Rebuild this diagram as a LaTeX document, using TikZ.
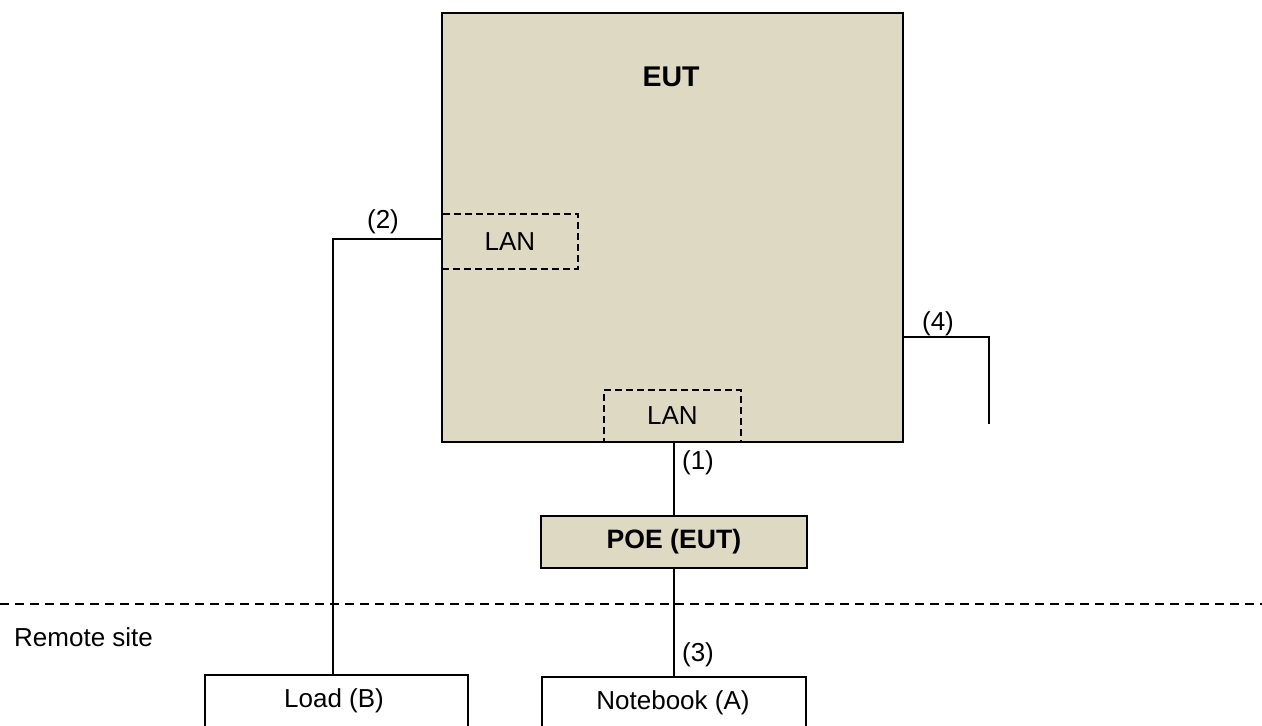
\documentclass[tikz,border=0pt]{standalone}
\usepackage{fontspec}
\setmainfont{Liberation Sans}
\definecolor{tan}{HTML}{DDD9C3}
\tikzset{
  box/.style={draw, line width=1.8pt, inner sep=0pt, anchor=north west},
  port/.style={draw, dash pattern=on 7pt off 4pt, line width=1.8pt, inner sep=0pt, anchor=north west},
  wire/.style={line width=1.8pt},
  txt/.style={font=\fontsize{26}{31}\selectfont, inner sep=0pt},
  btxt/.style={font=\fontsize{26.6}{32}\selectfont\bfseries, inner sep=0pt}
}
\begin{document}
\begin{tikzpicture}[x=1pt, y=-1pt]
  \clip (0,0) rectangle (1262,726);
  % equipment under test
  \node[box, fill=tan, minimum width=461pt, minimum height=429pt] (eut) at (441,12) {};
  \node[btxt, font=\fontsize{28.5}{34}\selectfont\bfseries] (eutlabel) at (671,77) {EUT};
  \node[port, minimum width=136pt, minimum height=55pt] (lanA) at (441,213) {};
  \node[txt] (lanAlabel) at (lanA.center) {LAN};
  \node[port, minimum width=137pt, minimum height=52pt] (lanB) at (603,389) {};
  \node[txt] (lanBlabel) at (lanB.center) {LAN};
  % power over ethernet injector
  \node[box, fill=tan, minimum width=266pt, minimum height=52pt] (poe) at (540,515) {};
  \node[btxt] (poelabel) at (poe.center) {POE (EUT)};
  % remote site equipment
  \node[box, minimum width=263pt, minimum height=80pt] (load) at (204,674) {};
  \node[txt] (loadlabel) at (334,701) {Load (B)};
  \node[box, minimum width=264pt, minimum height=80pt] (nb) at (541,676) {};
  \node[txt] (nblabel) at (673,703) {Notebook (A)};
  % site boundary
  \coordinate (divL) at (0,604);
  \coordinate (divR) at (1262,604);
  \draw[wire, dash pattern=on 9pt off 6pt] (divL) -- (divR);
  \node[txt, anchor=west] (remote) at (14,637) {Remote site};
  % cables
  \coordinate (corner2) at (333,239);
  \draw[wire] (eut.west |- corner2) -- (corner2) -- (corner2 |- load.north);
  \node[txt] (l2) at (383,222) {(2)};
  \draw[wire] (poe.north |- lanB.south) -- (poe.north);
  \node[txt] (l1) at (698,463) {(1)};
  \draw[wire] (poe.south) -- (poe.south |- nb.north);
  \node[txt] (l3) at (698,655) {(3)};
  \coordinate (y4) at (0,337);
  \coordinate (end4) at (989,424);
  \draw[wire] (eut.east |- y4) -| (end4);
  \node[txt] (l4) at (938,324) {(4)};
\end{tikzpicture}
\end{document}
